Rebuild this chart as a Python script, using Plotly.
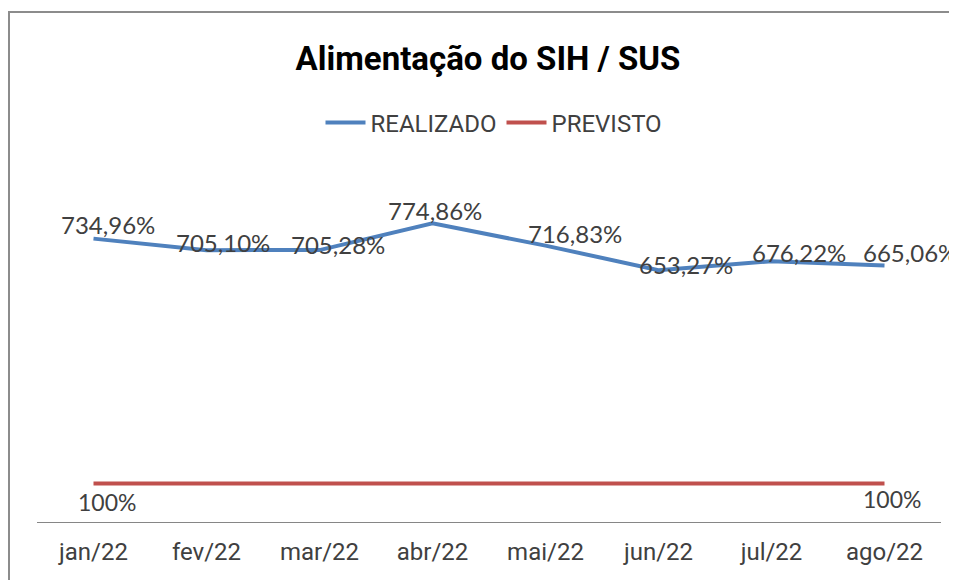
import plotly.graph_objects as go

months = ["jan/22", "fev/22", "mar/22", "abr/22", "mai/22", "jun/22", "jul/22", "ago/22"]
realizado = [734.96, 705.10, 705.28, 774.86, 716.83, 653.27, 676.22, 665.06]
previsto = [100, 100, 100, 100, 100, 100, 100, 100]

# label offsets (px) mimicking the original placement
real_dx = [14, 16, 18, 2, 29, 27, 27, 25]
real_dy = [14, 8, 6, 13, 12, 6, 9, 13]

def fmt(v):
    return f"{v:.2f}".replace(".", ",") + "%"

BLUE = "#4F81BD"
RED = "#C0504D"
FONT = "Roboto, sans-serif"
LABEL_FONT = "Lato, sans-serif"

fig = go.Figure()
fig.add_trace(go.Scatter(x=months, y=realizado, mode="lines", name="REALIZADO",
                         line=dict(color=BLUE, width=4)))
fig.add_trace(go.Scatter(x=months, y=previsto, mode="lines", name="PREVISTO",
                         line=dict(color=RED, width=4)))

for i, (m, v) in enumerate(zip(months, realizado)):
    fig.add_annotation(x=m, y=v, text=fmt(v), showarrow=False,
                       xshift=real_dx[i], yshift=real_dy[i],
                       font=dict(family=LABEL_FONT, size=24, color="#404040"))

for i in [0, len(months) - 1]:
    fig.add_annotation(x=months[i], y=previsto[i], text=f"{previsto[i]:.0f}%", showarrow=False,
                       xshift=13 if i == 0 else 7, yshift=-19 if i == 0 else -16,
                       font=dict(family=LABEL_FONT, size=23, color="#404040"))

# page body adds 8px margin; figure sized to fill remaining viewport
W, H = 949, 572
L, R, T, B = 29, 16, 167, 58
pw, ph = W - L - R, H - T - B

fig.add_shape(type="rect", xref="paper", yref="paper",
              x0=(1 - L) / pw, x1=(990 - L) / pw,
              y0=(H - B - 620) / ph, y1=(H - B - 4) / ph,
              line=dict(color="#8c8c8c", width=2), fillcolor="rgba(0,0,0,0)", layer="below")

fig.update_layout(
    width=W, height=H,
    margin=dict(l=L, r=R, t=T, b=B),
    paper_bgcolor="white", plot_bgcolor="white",
    title=dict(text="<b>Alimentação do SIH / SUS</b>", x=480 / W, xanchor="center",
               y=1 - 50 / H, yanchor="middle",
               font=dict(family=FONT, size=33, color="black")),
    legend=dict(orientation="h", x=(486 - L) / pw, xanchor="center",
                y=(H - B - 115) / ph, yanchor="middle",
                font=dict(family=FONT, size=24, color="#404040"),
                itemwidth=40, bgcolor="rgba(0,0,0,0)"),
    showlegend=True,
    xaxis=dict(showline=True, linecolor="#868686", linewidth=1, ticks="",
               showgrid=False, zeroline=False, automargin=False,
               ticklabelstandoff=8,
               tickfont=dict(family=FONT, size=24, color="#404040"),
               range=[-0.5, 7.5]),
    yaxis=dict(visible=False, range=[0, 900], showgrid=False, zeroline=False),
)

fig.write_html("out.html")
